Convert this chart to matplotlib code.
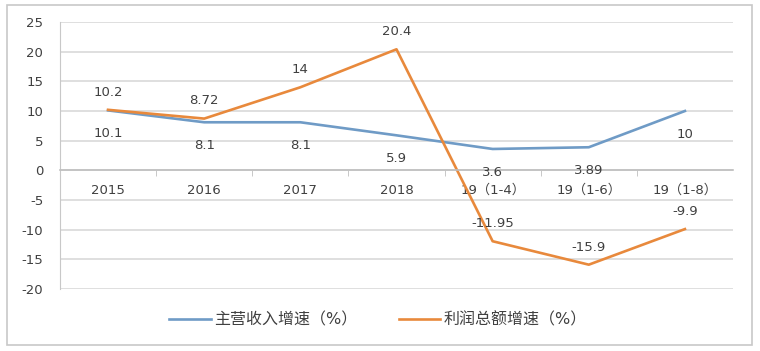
import matplotlib.pyplot as plt
from matplotlib.patches import Rectangle

plt.rcParams['font.family'] = ['DejaVu Sans', 'Noto Sans CJK SC']
plt.rcParams['axes.unicode_minus'] = False

categories = ['2015', '2016', '2017', '2018', '19（1-4）', '19（1-6）', '19（1-8）']
revenue = [10.1, 8.1, 8.1, 5.9, 3.6, 3.89, 10]
profit = [10.2, 8.72, 14, 20.4, -11.95, -15.9, -9.9]
revenue_labels = ['10.1', '8.1', '8.1', '5.9', '3.6', '3.89', '10']
profit_labels = ['10.2', '8.72', '14', '20.4', '-11.95', '-15.9', '-9.9']
series_names = ['主营收入增速（%）', '利润总额增速（%）']

blue = '#6f9bc6'
orange = '#e8893c'
txt = '#404040'
grid = '#d9d9d9'

fig = plt.figure(figsize=(7.6, 3.51), dpi=100)
fig.patches.append(Rectangle((7 / 760, 1 - 345 / 351), 745 / 760, 340 / 351,
                             transform=fig.transFigure, fill=False,
                             edgecolor='#c8c8c8', lw=1.2))
ax = fig.add_axes([60 / 760, 1 - 289 / 351, 673 / 760, 267 / 351])

x = list(range(len(categories)))
l1, = ax.plot(x, revenue, color=blue, lw=1.9, label=series_names[0])
l2, = ax.plot(x, profit, color=orange, lw=1.9, label=series_names[1])

for i in x:
    ax.annotate(revenue_labels[i], (i, revenue[i]), xytext=(0, -12),
                textcoords='offset points', ha='center', va='top',
                fontsize=9.5, color=txt)
    ax.annotate(profit_labels[i], (i, profit[i]), xytext=(0, 8),
                textcoords='offset points', ha='center', va='bottom',
                fontsize=9.5, color=txt)

ax.set_xlim(-0.5, len(categories) - 0.5)
ax.set_ylim(-20, 25)
ax.set_yticks(range(-20, 30, 5))
ax.yaxis.grid(True, color=grid, lw=1.2)
ax.set_axisbelow(True)

ax.spines['top'].set_visible(False)
ax.spines['right'].set_visible(False)
ax.spines['left'].set_color('#c8c8c8')
ax.spines['bottom'].set_position(('data', 0))
ax.spines['bottom'].set_color('#bfbfbf')
ax.spines['bottom'].set_linewidth(1.2)

ax.set_xticks(x)
ax.set_xticklabels(categories)
ax.set_xticks([i + 0.5 for i in x[:-1]], minor=True)
ax.tick_params(axis='x', which='major', length=0, pad=10, labelsize=9.5, labelcolor=txt)
ax.tick_params(axis='x', which='minor', length=4, color='#bfbfbf', direction='out')
ax.tick_params(axis='y', length=0, pad=12, labelsize=9.5, labelcolor=txt)

fig.legend(handles=[l1, l2], loc='center', bbox_to_anchor=(378 / 760, 1 - 320 / 351),
           ncol=2, frameon=False, fontsize=11.5, labelcolor=txt,
           handlelength=2.6, columnspacing=2.6, handletextpad=0.2)

fig.savefig('out.png', dpi=100)
